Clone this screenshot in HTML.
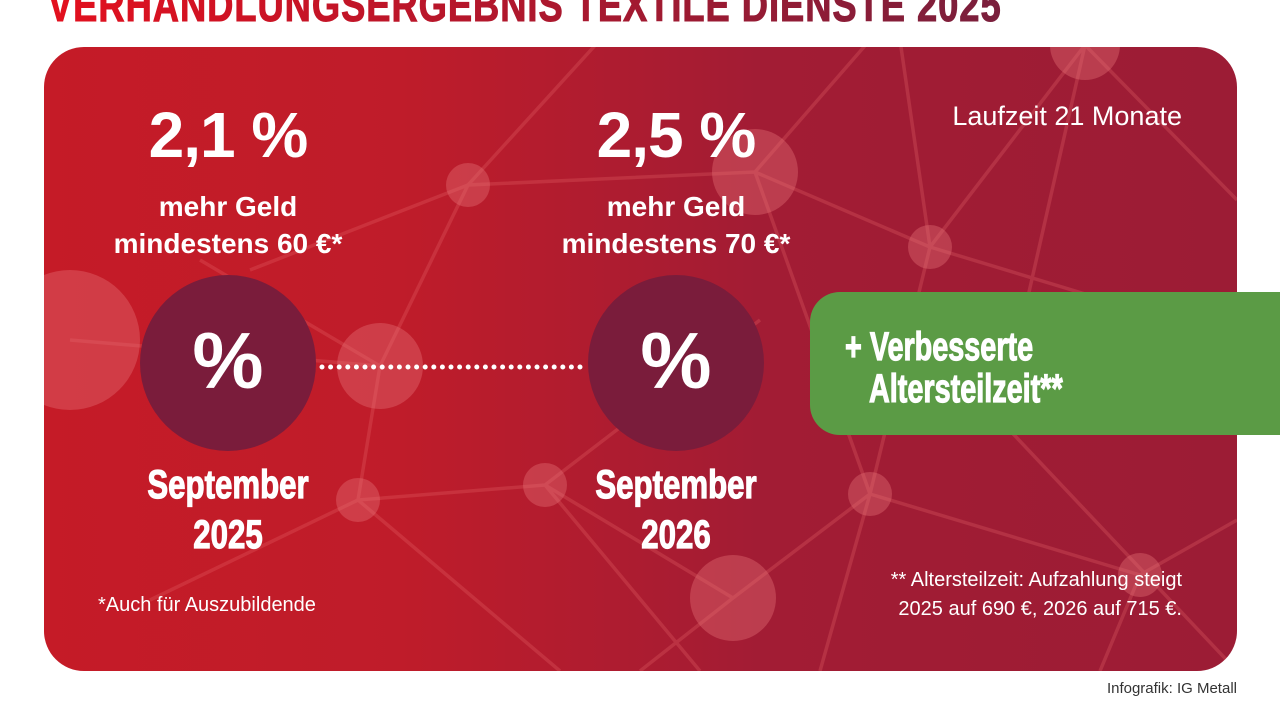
<!DOCTYPE html>
<html><head><meta charset="utf-8"><style>
body{margin:0;width:1280px;height:720px;background:#fff;position:relative;overflow:hidden;font-family:"Liberation Sans",sans-serif}
.t{position:absolute;color:#fff;text-align:center;white-space:nowrap}
.c{transform:scaleX(0.78);font-weight:bold;-webkit-text-stroke:1.2px #fff}
</style></head><body>
<div style="position:absolute;left:48px;top:-22px;font-size:46px;font-weight:bold;transform:scaleX(0.79);transform-origin:left top;white-space:nowrap;background:linear-gradient(90deg,#e3101e,#7a1f3c);-webkit-background-clip:text;color:transparent;letter-spacing:1.2px;-webkit-text-stroke:1px transparent">VERHANDLUNGSERGEBNIS TEXTILE DIENSTE 2025</div>
<svg width="1280" height="720" style="position:absolute;left:0;top:0">
<defs>
<linearGradient id="g" x1="0" x2="1"><stop offset="0" stop-color="#c51b27"/><stop offset="0.3" stop-color="#bf1c2a"/><stop offset="0.6" stop-color="#a21c34"/><stop offset="1" stop-color="#9c1c35"/></linearGradient>
<clipPath id="cp"><rect x="44" y="47" width="1193" height="624" rx="40"/></clipPath>
</defs>
<rect x="44" y="47" width="1193" height="624" rx="40" fill="url(#g)"/>
<g clip-path="url(#cp)" stroke="#e8686a" stroke-opacity="0.28" stroke-width="3.5" fill="none">
<path d="M70 340L380 366L358 500L545 485L733 598L870 494L930 247L755 172L468 185L380 366M468 185L250 270M468 185L600 40M755 172L870 40M930 247L900 40M930 247L1085 45L1237 200M755 172L870 494M545 485L760 320M870 494L1140 575L1237 520M870 494L820 671M733 598L640 671M358 500L150 600M358 500L560 671M545 485L700 671M1085 45L1000 420M1140 575L1100 671M1000 420L1237 671M380 366L200 260M930 247L1237 340"/>
</g>
<g clip-path="url(#cp)" fill="#e8747a" fill-opacity="0.38">
<circle cx="70" cy="340" r="70"/><circle cx="468" cy="185" r="22"/><circle cx="755" cy="172" r="43"/>
<circle cx="930" cy="247" r="22"/><circle cx="380" cy="366" r="43"/><circle cx="358" cy="500" r="22"/>
<circle cx="545" cy="485" r="22"/><circle cx="733" cy="598" r="43"/><circle cx="870" cy="494" r="22"/>
<circle cx="1085" cy="45" r="35"/><circle cx="1140" cy="575" r="22"/>
</g>
<rect x="810" y="292" width="520" height="143" rx="30" fill="#5b9b45"/>
<circle cx="228" cy="363" r="88" fill="#7a1c3b"/><circle cx="676" cy="363" r="88" fill="#7a1c3b"/>
<line x1="322" y1="367" x2="585" y2="367" stroke="#fff" stroke-width="5" stroke-linecap="round" stroke-dasharray="0 8.6"/>
</svg>
<div class="t" style="left:78px;width:300px;top:98px;font-size:64px;font-weight:bold;letter-spacing:-1px">2,1 %</div>
<div class="t" style="left:526px;width:300px;top:98px;font-size:64px;font-weight:bold;letter-spacing:-1px">2,5 %</div>
<div class="t" style="left:78px;width:300px;top:188px;font-size:28px;font-weight:bold;line-height:37px">mehr Geld<br>mindestens 60 €*</div>
<div class="t" style="left:526px;width:300px;top:188px;font-size:28px;font-weight:bold;line-height:37px">mehr Geld<br>mindestens 70 €*</div>
<div class="t" style="left:128px;width:200px;top:315px;font-size:80px;font-weight:bold">%</div>
<div class="t" style="left:576px;width:200px;top:315px;font-size:80px;font-weight:bold">%</div>
<div class="t c" style="left:78px;width:300px;top:460px;font-size:40px;line-height:50px">September<br>2025</div>
<div class="t c" style="left:526px;width:300px;top:460px;font-size:40px;line-height:50px">September<br>2026</div>
<div class="t" style="left:98px;top:594px;font-size:20px;text-align:left">*Auch für Auszubildende</div>
<div class="t" style="right:98px;top:101px;font-size:27px;text-align:right">Laufzeit 21 Monate</div>
<div class="t" style="right:98px;top:566px;font-size:20px;text-align:right;line-height:29px">** Altersteilzeit: Aufzahlung steigt<br>2025 auf 690 €, 2026 auf 715 €.</div>
<div class="t c" style="left:845px;top:326px;font-size:40px;text-align:left;line-height:42px;transform-origin:left top;transform:scaleX(0.72)">+ Verbesserte<br>&nbsp;&nbsp;&nbsp;Altersteilzeit**</div>
<div class="t" style="right:43px;top:680px;font-size:15px;color:#333;text-align:right">Infografik: IG Metall</div>
</body></html>
